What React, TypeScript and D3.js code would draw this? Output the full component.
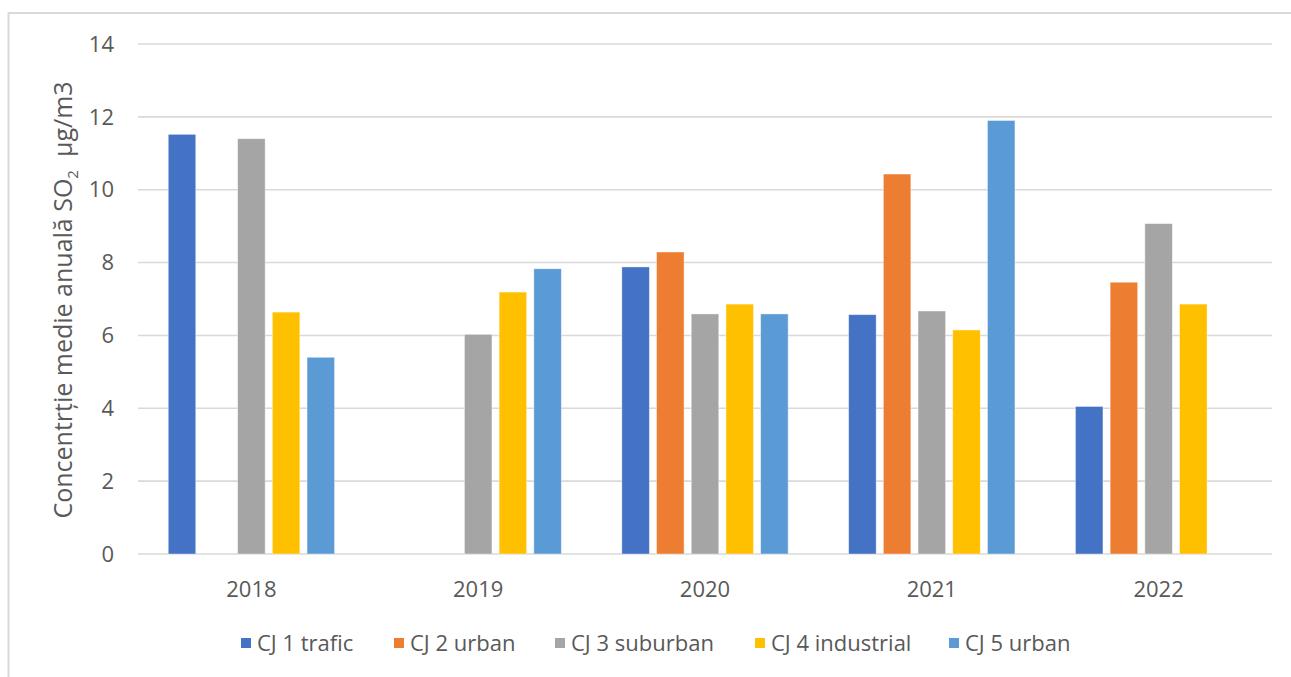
import React from 'react';
import * as d3 from 'd3';

const years = ['2018', '2019', '2020', '2021', '2022'];
const stations = ['CJ 1 trafic', 'CJ 2 urban', 'CJ 3 suburban', 'CJ 4 industrial', 'CJ 5 urban'];
const colors = ['#4472C4', '#ED7D31', '#A5A5A5', '#FFC000', '#5B9BD5'];

// one array per station, indexed by year (null = no data)
const cj1 = [11.52, null, 7.88, 6.57, 4.05];
const cj2 = [null, null, 8.29, 10.43, 7.46];
const cj3 = [11.4, 6.03, 6.59, 6.67, 9.07];
const cj4 = [6.64, 7.19, 6.86, 6.15, 6.86];
const cj5 = [5.4, 7.83, 6.59, 11.9, null];
const series = [cj1, cj2, cj3, cj4, cj5];

const yTicks = [0, 2, 4, 6, 8, 10, 12, 14];

const W = 1291;
const H = 677;
const font = "'Open Sans', 'Noto Sans', sans-serif";

export default function App() {
  const x = d3.scaleBand<string>().domain(years).range([138, 1272]).paddingInner(0).paddingOuter(0);
  const groupW = 166.3;
  const xs = d3.scaleBand<string>().domain(stations).range([-groupW / 2, groupW / 2]).paddingInner(0.207).paddingOuter(0);
  const y = d3.scaleLinear().domain([0, 14]).range([554, 44]);

  const legendX = [241, 394, 555, 755, 949];

  return (
    <>
      <style>{'body{margin:0}'}</style>
      <svg width={W} height={H} style={{ display: 'block', fontFamily: font }}>
        <rect x={0} y={0} width={W} height={H} fill="#fff" />
        {/* chart area border, cropped at right/bottom */}
        <path d={`M8.5,${H + 2} V13 H${W + 2}`} fill="none" stroke="#d9d9d9" strokeWidth={2} />

        {yTicks.map(t => (
          <g key={t}>
            <line x1={138} x2={1272} y1={y(t)} y2={y(t)} stroke="#d9d9d9" strokeWidth={1.6} />
            <text x={114} y={y(t)} dy="0.35em" textAnchor="end" fontSize={22} fill="#595959">{t}</text>
          </g>
        ))}

        {series.map((vals, si) => (
          <g key={stations[si]}>
            {vals.map((v, yi) => v == null ? null : (
              <rect key={yi}
                x={(x(years[yi]) as number) + x.bandwidth() / 2 + (xs(stations[si]) as number)}
                y={y(v)}
                width={xs.bandwidth()}
                height={y(0) - y(v)}
                fill={colors[si]}
                stroke="#fff" strokeOpacity={0.5} strokeWidth={0.8} />
            ))}
          </g>
        ))}

        {years.map(yr => (
          <text key={yr} x={(x(yr) as number) + x.bandwidth() / 2} y={589} dy="0.35em" textAnchor="middle" fontSize={22} fill="#595959">{yr}</text>
        ))}

        <text transform={`translate(63,${300}) rotate(-90)`} textAnchor="middle" dy="0.35em" fontSize={25} fill="#595959">
          Concentrție medie anuală SO<tspan fontSize={15} dy="6">2</tspan><tspan dy="-6" xmlSpace="preserve">  µg/m3</tspan>
        </text>

        {stations.map((s, i) => (
          <g key={s} transform={`translate(${legendX[i]},643)`}>
            <rect x={0} y={-5} width={10} height={10} fill={colors[i]} />
            <text x={16} y={0} dy="0.35em" fontSize={22} fill="#595959">{s}</text>
          </g>
        ))}
      </svg>
    </>
  );
}
